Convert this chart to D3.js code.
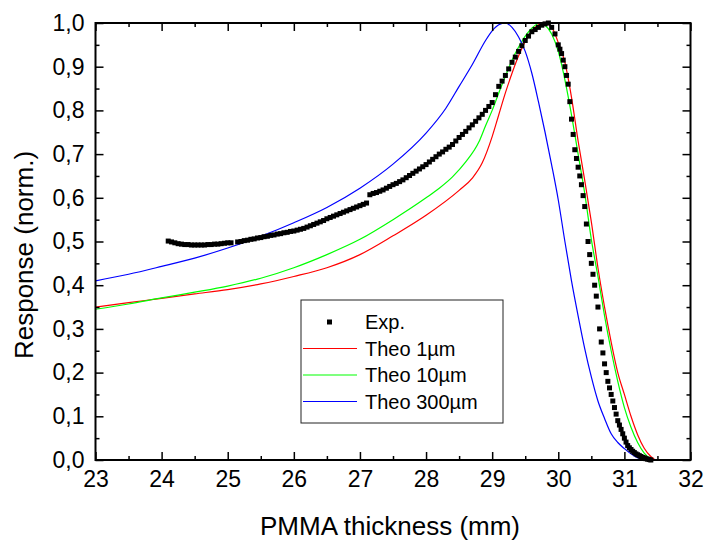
<!DOCTYPE html>
<html>
<head>
<meta charset="utf-8">
<script src="https://cdn.jsdelivr.net/npm/d3@7"></script>
<style>
  body { margin: 0; background: #fff; }
  svg text { font-family: "Liberation Sans", Arial, sans-serif; fill: #000; }
</style>
</head>
<body>
<svg id="chart"></svg>
<script>
// Experimental points (thickness mm, normalized response)
const expX = [24.10, 24.15, 24.20, 24.25, 24.30, 24.35, 24.40, 24.45, 24.50, 24.55, 24.60, 24.65, 24.70, 24.75, 24.80, 24.85, 24.90, 24.95, 25.00, 25.05,
  25.15, 25.20, 25.25, 25.30, 25.35, 25.40, 25.45, 25.50, 25.55, 25.60, 25.65, 25.70, 25.75, 25.80, 25.85, 25.90, 25.95, 26.00, 26.05, 26.10,
  26.15, 26.20, 26.25, 26.30, 26.35, 26.40, 26.45, 26.50, 26.55, 26.60, 26.65, 26.70, 26.75, 26.80, 26.85, 26.90, 26.95, 27.00, 27.05, 27.10,
  27.15, 27.20, 27.25, 27.30, 27.35, 27.40, 27.45, 27.50, 27.55, 27.60, 27.65, 27.70, 27.75, 27.80, 27.85, 27.90, 27.95, 28.00, 28.05, 28.10,
  28.15, 28.20, 28.25, 28.30, 28.35, 28.40, 28.45, 28.50, 28.55, 28.60, 28.65, 28.70, 28.75, 28.80, 28.85, 28.90, 28.95, 29.00, 29.05, 29.10,
  29.15, 29.20, 29.25, 29.30, 29.35, 29.40, 29.45, 29.50, 29.55, 29.60, 29.65, 29.70, 29.75, 29.80, 29.85, 29.90, 29.95,
  30.000, 30.025, 30.050, 30.075, 30.100, 30.125, 30.150, 30.175, 30.200, 30.225, 30.250, 30.275, 30.300, 30.325, 30.350, 30.375,
  30.400, 30.425, 30.450, 30.475, 30.500, 30.525, 30.550, 30.575, 30.600, 30.625, 30.650, 30.675, 30.700, 30.725, 30.750, 30.775,
  30.800, 30.825, 30.850, 30.875, 30.900, 30.925, 30.950, 30.975, 31.000, 31.025, 31.050, 31.075, 31.100, 31.125, 31.150, 31.175,
  31.200, 31.225, 31.250, 31.275, 31.300, 31.325, 31.350, 31.375, 31.400];
const expY = [0.501, 0.499, 0.497, 0.495, 0.494, 0.493, 0.493, 0.492, 0.492, 0.492, 0.492, 0.492, 0.493, 0.493, 0.494, 0.494, 0.495, 0.496, 0.497, 0.497,
  0.499, 0.500, 0.502, 0.503, 0.505, 0.506, 0.508, 0.509, 0.511, 0.512, 0.514, 0.515, 0.517, 0.518, 0.520, 0.521, 0.523, 0.524, 0.526, 0.528,
  0.530, 0.533, 0.536, 0.539, 0.542, 0.545, 0.548, 0.552, 0.555, 0.558, 0.561, 0.564, 0.567, 0.570, 0.573, 0.576, 0.579, 0.582, 0.585, 0.588,
  0.607, 0.610, 0.612, 0.615, 0.618, 0.622, 0.626, 0.630, 0.633, 0.637, 0.641, 0.646, 0.651, 0.656, 0.661, 0.666, 0.671, 0.676, 0.682, 0.688,
  0.694, 0.700, 0.705, 0.711, 0.716, 0.722, 0.730, 0.738, 0.745, 0.752, 0.760, 0.767, 0.775, 0.783, 0.791, 0.800, 0.809, 0.818, 0.836, 0.855,
  0.867, 0.880, 0.895, 0.910, 0.922, 0.935, 0.948, 0.960, 0.970, 0.980, 0.985, 0.990, 0.995, 0.998, 1.000, 0.990, 0.975,
  0.950, 0.940, 0.930, 0.915, 0.900, 0.880, 0.860, 0.820, 0.780, 0.745, 0.710, 0.690, 0.670, 0.650, 0.630, 0.605,
  0.580, 0.540, 0.500, 0.470, 0.450, 0.425, 0.400, 0.375, 0.350, 0.300, 0.270, 0.245, 0.220, 0.200, 0.180, 0.165,
  0.150, 0.135, 0.120, 0.105, 0.090, 0.080, 0.070, 0.060, 0.050, 0.041, 0.033, 0.028, 0.024, 0.020, 0.017, 0.014,
  0.012, 0.010, 0.008, 0.006, 0.005, 0.003, 0.002, 0.001, 0.000];

// Theory 1 µm (red)
const theo1X = [23.0, 23.5, 24.0, 24.5, 25.0, 25.5, 26.0, 26.5, 27.0, 27.5, 28.0, 28.5, 28.7, 28.85, 29.0, 29.1, 29.2, 29.3, 29.4, 29.5, 29.6, 29.7, 29.78,
  29.9, 30.0, 30.1, 30.2, 30.3, 30.4, 30.5, 30.6, 30.7, 30.8, 30.9, 31.0, 31.1, 31.2, 31.3, 31.4, 31.48, 32.0];
const theo1Y = [0.350, 0.360, 0.370, 0.380, 0.390, 0.403, 0.420, 0.440, 0.470, 0.513, 0.560, 0.617, 0.645, 0.680, 0.740, 0.790, 0.840, 0.885, 0.925, 0.958, 0.982, 0.996, 1.000,
  0.990, 0.955, 0.910, 0.830, 0.730, 0.640, 0.545, 0.440, 0.350, 0.270, 0.200, 0.150, 0.100, 0.058, 0.027, 0.008, 0.000, 0.000];

// Theory 10 µm (green)
const theo10X = [23.0, 23.5, 24.0, 24.5, 25.0, 25.5, 26.0, 26.5, 27.0, 27.5, 28.0, 28.2, 28.4, 28.6, 28.8, 28.9, 29.0, 29.1, 29.2, 29.3, 29.4, 29.5, 29.6, 29.72,
  29.8, 29.9, 30.0, 30.1, 30.2, 30.3, 30.4, 30.5, 30.6, 30.7, 30.8, 30.9, 31.0, 31.1, 31.2, 31.3, 31.4, 31.45, 32.0];
const theo10Y = [0.345, 0.357, 0.371, 0.384, 0.398, 0.416, 0.440, 0.470, 0.505, 0.550, 0.600, 0.622, 0.648, 0.682, 0.728, 0.765, 0.800, 0.840, 0.878, 0.915, 0.945, 0.970, 0.988, 1.000,
  0.995, 0.975, 0.935, 0.870, 0.790, 0.700, 0.610, 0.505, 0.420, 0.330, 0.250, 0.180, 0.120, 0.075, 0.040, 0.016, 0.003, 0.000, 0.000];

// Theory 300 µm (blue)
const theo300X = [23.0, 23.5, 24.0, 24.5, 25.0, 25.5, 26.0, 26.5, 27.0, 27.5, 28.0, 28.3, 28.5, 28.7, 28.9, 29.0, 29.1, 29.2, 29.3, 29.4, 29.5, 29.6, 29.7, 29.8,
  29.9, 30.0, 30.1, 30.2, 30.3, 30.4, 30.5, 30.6, 30.7, 30.8, 30.9, 31.0, 31.1, 31.2, 31.3, 31.35, 32.0];
const theo300Y = [0.410, 0.425, 0.443, 0.462, 0.485, 0.512, 0.543, 0.578, 0.622, 0.677, 0.748, 0.805, 0.855, 0.905, 0.960, 0.982, 0.996, 1.000, 0.990, 0.968, 0.935, 0.885, 0.820, 0.750,
  0.675, 0.595, 0.500, 0.410, 0.330, 0.255, 0.190, 0.135, 0.095, 0.060, 0.040, 0.026, 0.014, 0.005, 0.001, 0.000, 0.000];

const xTicks = [23, 24, 25, 26, 27, 28, 29, 30, 31, 32];
const yTicks = [0, 0.1, 0.2, 0.3, 0.4, 0.5, 0.6, 0.7, 0.8, 0.9, 1.0];
const legendLabels = ["Exp.", "Theo 1µm", "Theo 10µm", "Theo 300µm"];
const colors = ["#000000", "#ff0000", "#00ff00", "#0000ff"];

const W = 709, H = 549;
const margin = {top: 23, right: 18.5, bottom: 89, left: 95.5};
const width = W - margin.left - margin.right;
const height = H - margin.top - margin.bottom;

const root = d3.select("#chart").attr("width", W).attr("height", H);
const svg = root.append("g").attr("transform", `translate(${margin.left},${margin.top})`);

const x = d3.scaleLinear().domain([23, 32]).range([0, width]);
const y = d3.scaleLinear().domain([0, 1]).range([height, 0]);

const fmt = d => d3.format(".1f")(d).replace(".", ",");
const xMinor = d3.range(23.5, 32, 1);
const yMinor = d3.range(0.05, 1, 0.1);

// lines
const series = [[theo1X, theo1Y], [theo10X, theo10Y], [theo300X, theo300Y]];
const line = d3.line().x(d => x(d[0])).y(d => y(d[1])).curve(d3.curveMonotoneX);
series.forEach((s, i) => {
  svg.append("path")
    .datum(s[0].map((v, j) => [v, s[1][j]]))
    .attr("fill", "none")
    .attr("stroke", colors[i + 1])
    .attr("stroke-width", 1.2)
    .attr("d", line);
});

// experimental squares
svg.selectAll(".pt")
  .data(expX.map((v, j) => [v, expY[j]]))
  .enter().append("rect")
  .attr("class", "pt")
  .attr("x", d => x(d[0]) - 2.5)
  .attr("y", d => y(d[1]) - 2.5)
  .attr("width", 5)
  .attr("height", 5)
  .attr("fill", "#000");

// axes (ticks inside)
function styleAxis(g) {
  g.select(".domain").remove();
  g.selectAll(".tick line").attr("stroke", "#000").attr("stroke-width", 1.5);
  g.selectAll("text").style("font-size", "23px").attr("fill", "#000");
}
svg.append("g").attr("transform", `translate(0,${height})`)
  .call(d3.axisBottom(x).tickValues(xTicks).tickFormat(d3.format("d")).tickSizeInner(-8).tickSizeOuter(0).tickPadding(11))
  .call(styleAxis);
svg.append("g").attr("transform", `translate(0,${height})`)
  .call(d3.axisBottom(x).tickValues(xMinor).tickFormat("").tickSizeInner(-4).tickSizeOuter(0))
  .call(styleAxis);
svg.append("g")
  .call(d3.axisTop(x).tickValues(xTicks).tickFormat("").tickSizeInner(-8).tickSizeOuter(0))
  .call(styleAxis);
svg.append("g")
  .call(d3.axisTop(x).tickValues(xMinor).tickFormat("").tickSizeInner(-4).tickSizeOuter(0))
  .call(styleAxis);
svg.append("g")
  .call(d3.axisLeft(y).tickValues(yTicks).tickFormat(fmt).tickSizeInner(-8).tickSizeOuter(0).tickPadding(11))
  .call(styleAxis);
svg.append("g")
  .call(d3.axisLeft(y).tickValues(yMinor).tickFormat("").tickSizeInner(-4).tickSizeOuter(0))
  .call(styleAxis);
svg.append("g").attr("transform", `translate(${width},0)`)
  .call(d3.axisRight(y).tickValues(yTicks).tickFormat("").tickSizeInner(-8).tickSizeOuter(0))
  .call(styleAxis);
svg.append("g").attr("transform", `translate(${width},0)`)
  .call(d3.axisRight(y).tickValues(yMinor).tickFormat("").tickSizeInner(-4).tickSizeOuter(0))
  .call(styleAxis);

// frame
svg.append("rect")
  .attr("width", width).attr("height", height)
  .attr("fill", "none").attr("stroke", "#000").attr("stroke-width", 2);

// axis titles
root.append("text")
  .attr("x", 390).attr("y", 535)
  .attr("text-anchor", "middle")
  .style("font-size", "26px")
  .text("PMMA thickness (mm)");
root.append("text")
  .attr("transform", "translate(33,255) rotate(-90)")
  .attr("text-anchor", "middle")
  .style("font-size", "26px")
  .text("Response (norm.)");

// legend
const lg = root.append("g").attr("transform", "translate(301,300)");
lg.append("rect").attr("width", 202).attr("height", 123)
  .attr("fill", "#fff").attr("stroke", "#222").attr("stroke-width", 1);
legendLabels.forEach((lab, i) => {
  const cy = 22 + i * 26.5;
  if (i === 0) {
    lg.append("rect").attr("x", 26).attr("y", cy - 2.5).attr("width", 5).attr("height", 5).attr("fill", "#000");
  } else {
    lg.append("line").attr("x1", 2).attr("x2", 56).attr("y1", cy).attr("y2", cy)
      .attr("stroke", colors[i]).attr("stroke-width", 1.2);
  }
  lg.append("text").attr("x", 64).attr("y", cy).attr("dy", "0.35em")
    .style("font-size", "20px").text(lab);
});
</script>
</body>
</html>
